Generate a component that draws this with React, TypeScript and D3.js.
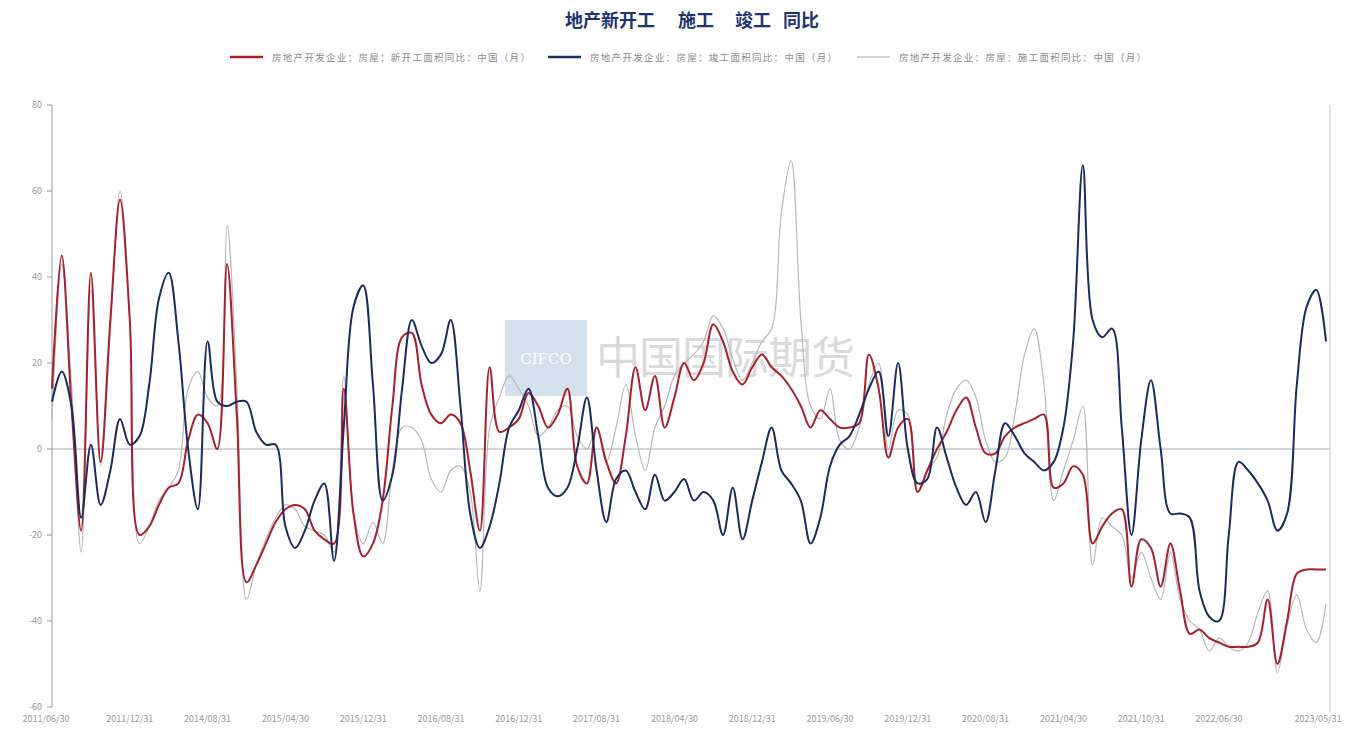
import React from "react";
import * as d3 from "d3";

const title = ["地产新开工", "施工", "竣工", "同比"];
const legendNames = [
  "房地产开发企业：房屋：新开工面积同比：中国（月）",
  "房地产开发企业：房屋：竣工面积同比：中国（月）",
  "房地产开发企业：房屋：施工面积同比：中国（月）",
];
const tickLabels = [
  "2011/06/30", "2011/12/31", "2014/08/31", "2015/04/30", "2015/12/31", "2016/08/31",
  "2016/12/31", "2017/08/31", "2018/04/30", "2018/12/31", "2019/06/30", "2019/12/31",
  "2020/08/31", "2021/04/30", "2021/10/31", "2022/06/30", "2023/05/31",
];
const tickIndex = [0, 8, 16, 24, 32, 40, 48, 56, 64, 72, 80, 88, 96, 104, 112, 120, 131];
const yTicks = [80, 60, 40, 20, 0, -20, -40, -60];

const newStart = [
  14, 45, 10, -19, 41, -3, 30, 58, 30, -20,
  -18, -13, -9, -8, 2, 8, 6, 0, 43, 8,
  -31, -27, -22, -17, -14, -13, -14, -19, -21, -22,
  14, -15, -25, -22, -12, 10, 26, 27, 15, 8,
  6, 8, 6, -5, -19, 19, 4, 5, 7, 13,
  10, 5, 8, 14, -4, -8, 5, -3, -8, 3,
  19, 9, 17, 5, 12, 20, 16, 20, 29, 25,
  18, 15, 19, 22, 19, 17, 14, 10, 5, 9,
  7, 5, 5, 6, 22, 14, -2, 5, 7, -10,
  -5, 0, 4, 9, 12, 5, -1, -1, 3, 5,
  6, 7, 8, -9, -8, -4, -6, -22, -18, -15,
  -14, -32, -21, -23, -32, -22, -33, -43, -42, -44,
  -45, -46, -46, -46, -45, -35, -50, -40, -29, -28,
  -28, -28,
];
const completed = [
  11, 18, 10, -16, 1, -13, -5, 7, 1, 3,
  15, 35, 41, 25, 0, -14, 25, 11, 10, 11,
  11, 4, 1, 1, -18, -23, -19, -12, -8, -26,
  5, 33, 38, 15, -12, -6, 14, 30, 24, 20,
  22, 30, 10, -15, -23, -18, -8, 5, 9, 14,
  3, -9, -11, -9, 0, 12, -5, -17, -7, -5,
  -10, -14, -6, -12, -10, -7, -12, -10, -12, -20,
  -9, -21, -12, -3, 5, -5, -8, -12, -22, -16,
  -4, 1, 3, 8, 14, 18, 3, 20, 0, -8,
  -7, 5, -2, -9, -13, -10, -17, -5, 6, 3,
  -1, -3, -5, -3, 5, 25, 66, 30, 26, 28,
  5, -20, 2, 16, 0, -15, -15, -16, -33, -39,
  -40, -20, -3, -5, -8, -12, -19, -15, 15, 33,
  37, 25,
];
const underConstruction = [
  7, 43, 15, -24, 37, -4, 28, 60, 30, -22,
  -18, -12, -9, -5, 14, 18, 12, 10, 52, 15,
  -35, -27, -21, -16, -13, -14, -18, -19, -20, -24,
  17, -15, -22, -17, -22, -5, 5, 5, 2, -7,
  -10, -5, -4, -10, -33, 5, 12, 17, 14, 10,
  3, 5, 9, 10, 3, 0, 5, -3, 5, 15,
  3, -5, 5, 10, 17, 20, 22, 25, 31, 28,
  21, 16, 20, 25, 28, 55, 67, 30, 10, 7,
  14, 2, 0, 5, 15, 20, 0, 9, 8, -10,
  -5, -2, 8, 14, 16, 12, 2, -3, -2, 8,
  22, 28, 15, -12, -5, 2, 10, -27, -16, -18,
  -20, -30, -24, -30, -35, -24, -35, -40, -42, -47,
  -44, -46, -47, -45, -38, -33, -52, -41, -34, -42,
  -45, -36,
];

const W = 1360;
const H = 732;
const FONT = '"Noto Sans CJK SC", "Noto Sans", sans-serif';

export default function App() {
  const n = newStart.length;
  const x = d3.scaleLinear().domain([0, n - 1]).range([52, 1326]);
  const y = d3.scaleLinear().domain([-60, 80]).range([707, 105]);
  const line = d3
    .line<number>()
    .x((_, i) => x(i))
    .y((v) => y(v))
    .curve(d3.curveCatmullRom.alpha(0.5));

  const series = [
    { data: underConstruction, color: "#b8b8b8", width: 1.2 },
    { data: newStart, color: "#a8202c", width: 2 },
    { data: completed, color: "#1b2b5e", width: 2 },
  ];
  const legend = [
    { x: 230, color: "#a8202c", width: 2.5, name: legendNames[0] },
    { x: 548, color: "#1b2b5e", width: 2.5, name: legendNames[1] },
    { x: 857, color: "#aaaaaa", width: 1.2, name: legendNames[2] },
  ];
  const titleX = [565, 678, 735, 783];

  return (
    <svg
      width={W}
      height={H}
      style={{ position: "absolute", left: 0, top: 0, background: "#fff" }}
      fontFamily={FONT}
    >
      <rect x={0} y={0} width={W} height={H} fill="#ffffff" />
      {title.map((t, i) => (
        <text key={i} x={titleX[i]} y={27} fontSize={18} fontWeight="bold" fill="#1e3470">
          {t}
        </text>
      ))}
      {legend.map((l, i) => (
        <g key={i}>
          <line x1={l.x} x2={l.x + 33} y1={57} y2={57} stroke={l.color} strokeWidth={l.width} />
          <text x={l.x + 42} y={61} fontSize={9.5} letterSpacing={1.3} fill="#8a8a8a">
            {l.name}
          </text>
        </g>
      ))}

      {/* watermark */}
      <g opacity={0.55}>
        <rect x={505} y={320} width={82} height={76} fill="#b4c8e0" />
        <text x={546} y={364} fontSize={15} textAnchor="middle" fill="#ffffff" fontFamily="DejaVu Serif">
          CIFCO
        </text>
        <text x={596} y={374} fontSize={44} fill="#bdbdbd" letterSpacing={-1}>
          中国国际期货
        </text>
      </g>

      {/* axes */}
      <line x1={52} x2={52} y1={105} y2={707} stroke="#9a9a9a" strokeWidth={1} />
      <line x1={1330} x2={1330} y1={105} y2={712} stroke="#c8c8c8" strokeWidth={1} />
      {yTicks.map((t) => (
        <g key={t}>
          <line x1={47} x2={52} y1={y(t)} y2={y(t)} stroke="#9a9a9a" />
          <text x={42} y={y(t) + 3} fontSize={9} textAnchor="end" fill="#999">
            {t}
          </text>
        </g>
      ))}
      <line x1={52} x2={1330} y1={y(0)} y2={y(0)} stroke="#8c99b3" strokeWidth={0.8} />
      {tickIndex.map((ti, i) => (
        <text key={i} x={x(ti) - (i === 0 ? 6 : 0) - (i === tickIndex.length - 1 ? 8 : 0)} y={722} fontSize={9} textAnchor="middle" fill="#999">
          {tickLabels[i]}
        </text>
      ))}

      {series.map((s, i) => (
        <path key={i} d={line(s.data) || ""} fill="none" stroke={s.color} strokeWidth={s.width} strokeLinejoin="round" />
      ))}
    </svg>
  );
}
